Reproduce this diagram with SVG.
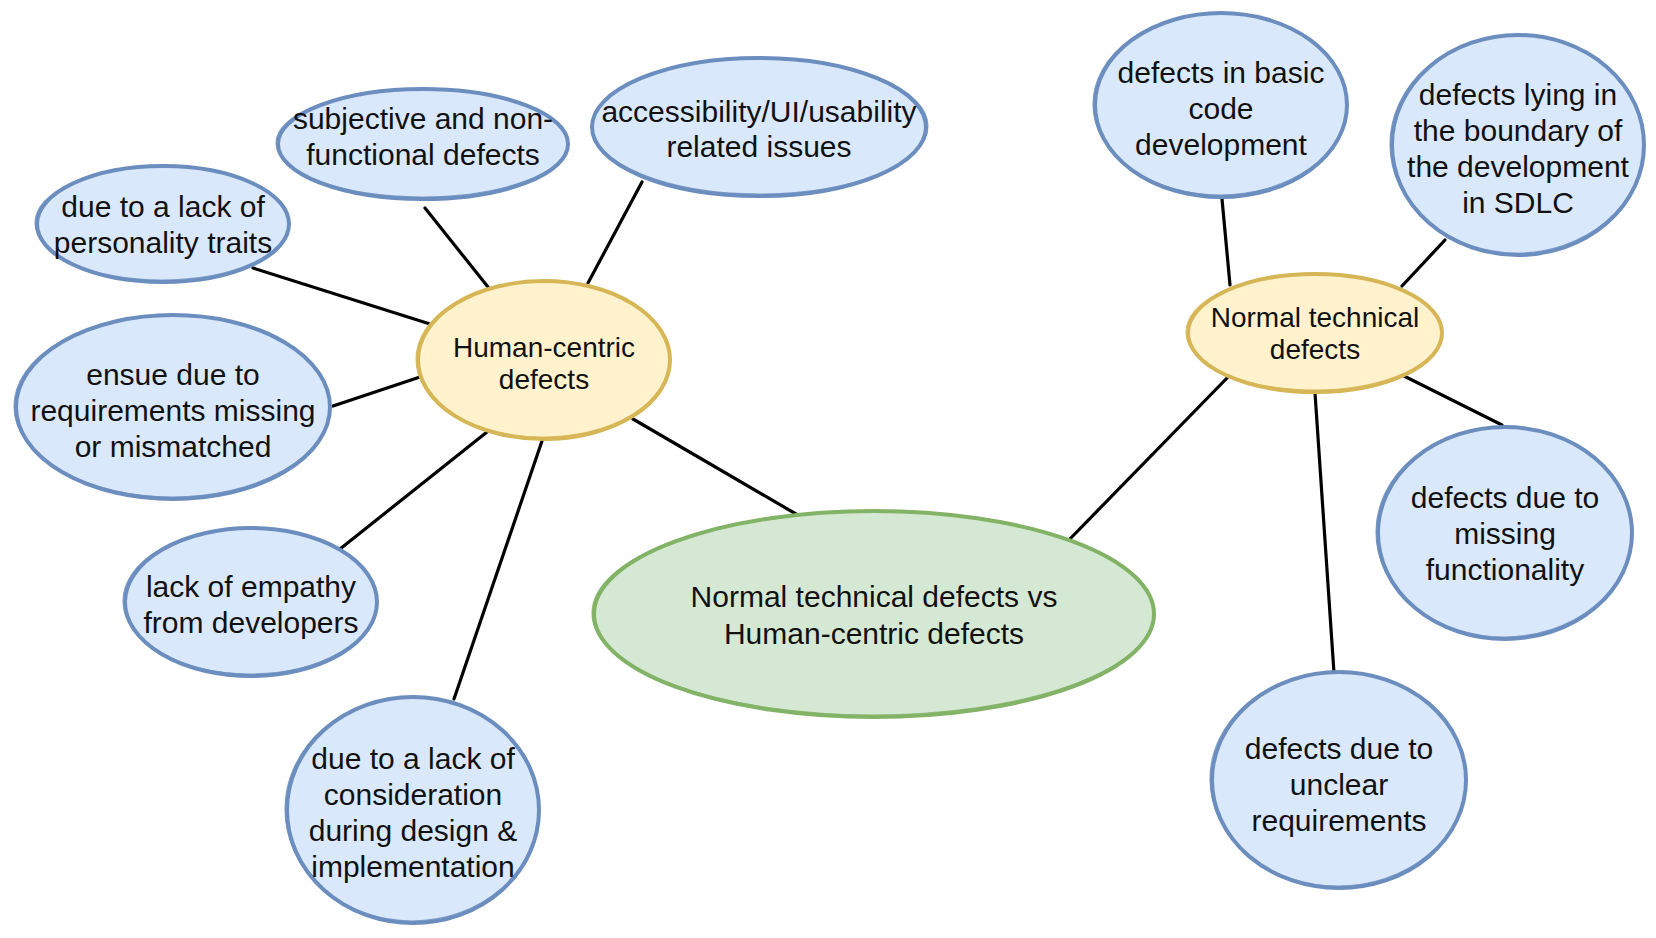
<svg xmlns="http://www.w3.org/2000/svg" width="1656" height="938" viewBox="0 0 1656 938">
<style>
.blue{fill:#dae8fc;stroke:#6c8ebf;stroke-width:4}
.yel{fill:#fff2cc;stroke:#d6b656;stroke-width:4}
.grn{fill:#d5e8d4;stroke:#82b366;stroke-width:4}
.sk{fill:none;stroke-width:1.2;opacity:0.8}
.sb{stroke:#6c8ebf}.sy{stroke:#d6b656}.sg{stroke:#82b366}
.t{font-family:"Liberation Sans",Arial,Helvetica,sans-serif;font-size:30px;fill:#111;text-anchor:middle}
.ty{font-size:28px}
.edge{stroke:#000;stroke-width:3.2;fill:none;stroke-linecap:round}
</style>
<rect width="1656" height="938" fill="#fff"/>
<g id="connectors">
<line class="edge" x1="253" y1="268" x2="430" y2="324"/>
<line class="edge" x1="425" y1="208" x2="488" y2="287"/>
<line class="edge" x1="642" y1="182" x2="588" y2="283"/>
<line class="edge" x1="333" y1="406" x2="420" y2="377"/>
<line class="edge" x1="340" y1="549" x2="492" y2="428"/>
<line class="edge" x1="454" y1="699" x2="542" y2="441"/>
<line class="edge" x1="633" y1="419" x2="796" y2="514"/>
<line class="edge" x1="1228" y1="377" x2="1066" y2="543"/>
<line class="edge" x1="1222" y1="199" x2="1230" y2="285"/>
<line class="edge" x1="1445" y1="240" x2="1402" y2="286"/>
<line class="edge" x1="1404" y1="376" x2="1502" y2="425"/>
<line class="edge" x1="1315" y1="393" x2="1334" y2="673"/>
</g>
<g id="n-personality">
<ellipse class="blue" cx="163" cy="224" rx="126" ry="58"/>
<ellipse class="sk sb" cx="162" cy="223" rx="127" ry="57"/>
<text class="t" x="163" y="217">due to a lack of</text>
<text class="t" x="163" y="253">personality traits</text>
</g>
<g id="n-subjective">
<ellipse class="blue" cx="423" cy="144" rx="145" ry="55"/>
<ellipse class="sk sb" cx="422" cy="143" rx="146" ry="54"/>
<text class="t" x="423" y="129">subjective and non-</text>
<text class="t" x="423" y="165">functional defects</text>
</g>
<g id="n-accessibility">
<ellipse class="blue" cx="759" cy="127" rx="167" ry="69"/>
<ellipse class="sk sb" cx="760" cy="126" rx="168" ry="68"/>
<text class="t" x="759" y="122">accessibility/UI/usability</text>
<text class="t" x="759" y="157">related issues</text>
</g>
<g id="n-ensue">
<ellipse class="blue" cx="173" cy="407" rx="157" ry="92"/>
<ellipse class="sk sb" cx="172" cy="406" rx="158" ry="91"/>
<text class="t" x="173" y="385">ensue due to</text>
<text class="t" x="173" y="421">requirements missing</text>
<text class="t" x="173" y="457">or mismatched</text>
</g>
<g id="n-empathy">
<ellipse class="blue" cx="251" cy="602" rx="126" ry="74"/>
<ellipse class="sk sb" cx="250" cy="601" rx="127" ry="73"/>
<text class="t" x="251" y="597">lack of empathy</text>
<text class="t" x="251" y="633">from developers</text>
</g>
<g id="n-consideration">
<ellipse class="blue" cx="413" cy="810" rx="126" ry="113"/>
<ellipse class="sk sb" cx="412" cy="809" rx="127" ry="112"/>
<text class="t" x="413" y="769">due to a lack of</text>
<text class="t" x="413" y="805">consideration</text>
<text class="t" x="413" y="841">during design &amp;</text>
<text class="t" x="413" y="877">implementation</text>
</g>
<g id="n-human">
<ellipse class="yel" cx="544" cy="360" rx="126" ry="79"/>
<ellipse class="sk sy" cx="543" cy="359" rx="127" ry="78"/>
<text class="t ty" x="544" y="357">Human-centric</text>
<text class="t ty" x="544" y="389">defects</text>
</g>
<g id="n-center">
<ellipse class="grn" cx="874" cy="614" rx="280" ry="103"/>
<ellipse class="sk sg" cx="873" cy="613" rx="281" ry="102"/>
<text class="t" x="874" y="607">Normal technical defects vs</text>
<text class="t" x="874" y="644">Human-centric defects</text>
</g>
<g id="n-normal">
<ellipse class="yel" cx="1315" cy="333" rx="127" ry="59"/>
<ellipse class="sk sy" cx="1314" cy="332" rx="128" ry="58"/>
<text class="t ty" x="1315" y="327">Normal technical</text>
<text class="t ty" x="1315" y="359">defects</text>
</g>
<g id="n-basic">
<ellipse class="blue" cx="1221" cy="105" rx="126" ry="92"/>
<ellipse class="sk sb" cx="1220" cy="104" rx="127" ry="91"/>
<text class="t" x="1221" y="83">defects in basic</text>
<text class="t" x="1221" y="119">code</text>
<text class="t" x="1221" y="155">development</text>
</g>
<g id="n-boundary">
<ellipse class="blue" cx="1518" cy="145" rx="126" ry="110"/>
<ellipse class="sk sb" cx="1517" cy="144" rx="127" ry="109"/>
<text class="t" x="1518" y="105">defects lying in</text>
<text class="t" x="1518" y="141">the boundary of</text>
<text class="t" x="1518" y="177">the development</text>
<text class="t" x="1518" y="213">in SDLC</text>
</g>
<g id="n-missing">
<ellipse class="blue" cx="1505" cy="533" rx="127" ry="106"/>
<ellipse class="sk sb" cx="1504" cy="532" rx="128" ry="105"/>
<text class="t" x="1505" y="508">defects due to</text>
<text class="t" x="1505" y="544">missing</text>
<text class="t" x="1505" y="580">functionality</text>
</g>
<g id="n-unclear">
<ellipse class="blue" cx="1339" cy="780" rx="127" ry="108"/>
<ellipse class="sk sb" cx="1338" cy="779" rx="128" ry="107"/>
<text class="t" x="1339" y="759">defects due to</text>
<text class="t" x="1339" y="795">unclear</text>
<text class="t" x="1339" y="831">requirements</text>
</g>
</svg>
